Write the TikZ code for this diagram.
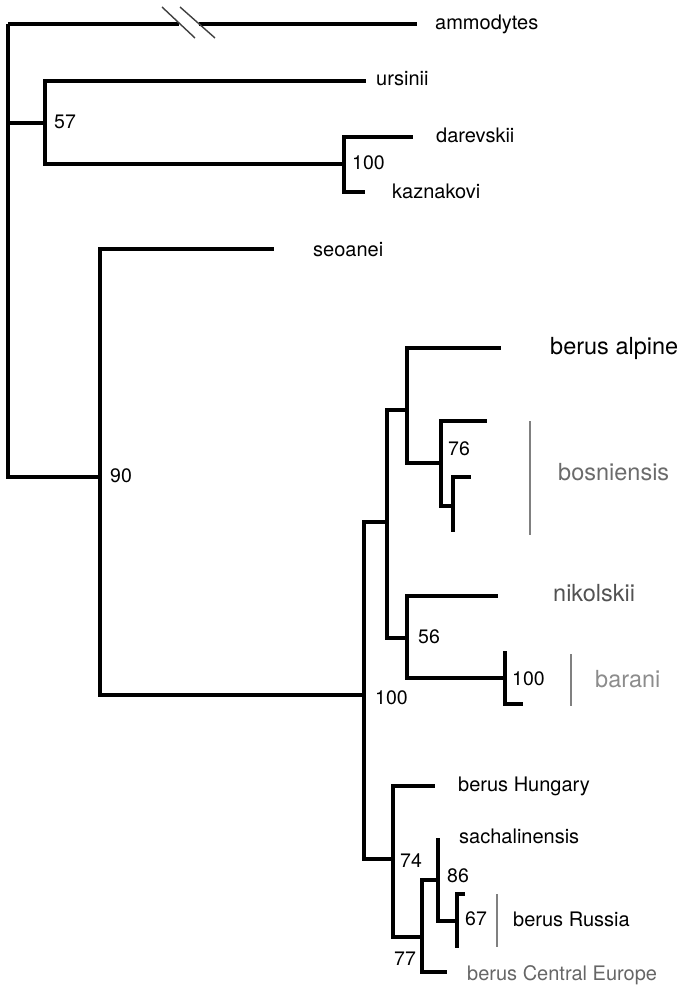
\documentclass[tikz,border=0pt]{standalone}
\usepackage{fontspec}
\setmainfont{TeX Gyre Heros}
\begin{document}
\begin{tikzpicture}[x=1pt,y=-1pt,
  branch/.style={line width=3.3pt, line join=miter, line cap=butt},
  cut/.style={line width=1.4pt, draw=black!75},
  grpbar/.style={line width=2.2pt, draw=black!50},
  taxon/.style={anchor=base west, inner sep=0pt, font=\fontsize{20}{24}\selectfont},
  bigtaxon/.style={anchor=base west, inner sep=0pt, font=\fontsize{23.5}{28}\selectfont},
  support/.style={anchor=base west, inner sep=0pt, font=\fontsize{19.5}{23}\selectfont}]
\useasboundingbox (0,0) rectangle (679,987);

% ---- tree nodes (internal) and tips
\coordinate (r) at (8,24);
\coordinate (amm) at (417,24);
\coordinate (brkA) at (179,24);
\coordinate (brkB) at (199,24);
\coordinate (n57) at (45,123);
\coordinate (urs) at (366,81);
\coordinate (n100a) at (344,164);
\coordinate (dar) at (413,137);
\coordinate (kaz) at (365,192);
\coordinate (n90) at (100,477);
\coordinate (seo) at (274,249);
\coordinate (n100b) at (364,695);
\coordinate (nX) at (387,522);
\coordinate (nY) at (407,410);
\coordinate (alp) at (501,348);
\coordinate (n76) at (441,463);
\coordinate (bos1) at (487,421);
\coordinate (nB) at (453,506);
\coordinate (bos2) at (471,477);
\coordinate (bos3) at (453,532);
\coordinate (n56) at (407,638);
\coordinate (nik) at (498,596);
\coordinate (n100c) at (505,678);
\coordinate (bar1) at (505,651);
\coordinate (bar2) at (523,704);
\coordinate (n74) at (393,859);
\coordinate (hun) at (435,786);
\coordinate (n77) at (422,937);
\coordinate (ce) at (447,972);
\coordinate (n86) at (438,880);
\coordinate (sac) at (438,838);
\coordinate (n67) at (457,921);
\coordinate (rus1) at (465,894);
\coordinate (rus2) at (457,948);

% ---- branches (rectangular cladogram)
\draw[branch] (r) -- (brkA);
\draw[branch] (brkB) -- (amm);
\foreach \p/\c in {r/n57, r/n90, n57/urs, n57/n100a, n100a/dar, n100a/kaz,
  n90/seo, n90/n100b, n100b/nX, n100b/n74, nX/nY, nX/n56, nY/alp, nY/n76,
  n76/bos1, n76/nB, nB/bos2, nB/bos3, n56/nik, n56/n100c, n100c/bar1,
  n100c/bar2, n74/hun, n74/n77, n77/n86, n77/ce, n86/sac, n86/n67,
  n67/rus1, n67/rus2}
  \draw[branch] (\p) |- (\c);

% ---- break marks on the long branch
\coordinate (c1a) at (162,7);  \coordinate (c1b) at (195,38);
\coordinate (c2a) at (180,7);  \coordinate (c2b) at (215,38);
\draw[cut] (c1a) -- (c1b);
\draw[cut] (c2a) -- (c2b);

% ---- group bars
\coordinate (gb1) at (530,421); \coordinate (gb2) at (530,535);
\coordinate (gb3) at (571,654); \coordinate (gb4) at (571,706);
\coordinate (gb5) at (497,894); \coordinate (gb6) at (497,947);
\draw[grpbar] (gb1) -- (gb2);
\draw[grpbar] (gb3) -- (gb4);
\draw[grpbar] (gb5) -- (gb6);

% ---- taxon labels
\node[taxon] (tamm) at (435,29.5) {ammodytes};
\node[taxon] (turs) at (376,86) {ursinii};
\node[taxon] (tdar) at (436,143) {darevskii};
\node[taxon] (tkaz) at (392,198) {kaznakovi};
\node[taxon] (tseo) at (313,256.5) {seoanei};
\node[bigtaxon] (talp) at (550,354) {berus alpine};
\node[bigtaxon, text=black!58] (tbos) at (558,480) {bosniensis};
\node[bigtaxon, text=black!68] (tnik) at (553,601) {nikolskii};
\node[bigtaxon, text=black!45] (tbar) at (595,687) {barani};
\node[taxon] (thun) at (458,791.5) {berus Hungary};
\node[taxon] (tsac) at (459,843) {sachalinensis};
\node[taxon] (trus) at (513,926.5) {berus Russia};
\node[taxon, text=black!60] (tce) at (467,980.5) {berus Central Europe};

% ---- support values
\node[support] (s57) at (54,128.5) {57};
\node[support] (s100a) at (352,169.5) {100};
\node[support] (s90) at (110,482.5) {90};
\node[support] (s100b) at (375,704) {100};
\node[support] (s76) at (448,455) {76};
\node[support] (s56) at (418,643.5) {56};
\node[support] (s100c) at (512,685) {100};
\node[support] (s74) at (400,867.5) {74};
\node[support] (s86) at (447,882.5) {86};
\node[support] (s67) at (465,925) {67};
\node[support] (s77) at (394,965) {77};
\end{tikzpicture}
\end{document}
